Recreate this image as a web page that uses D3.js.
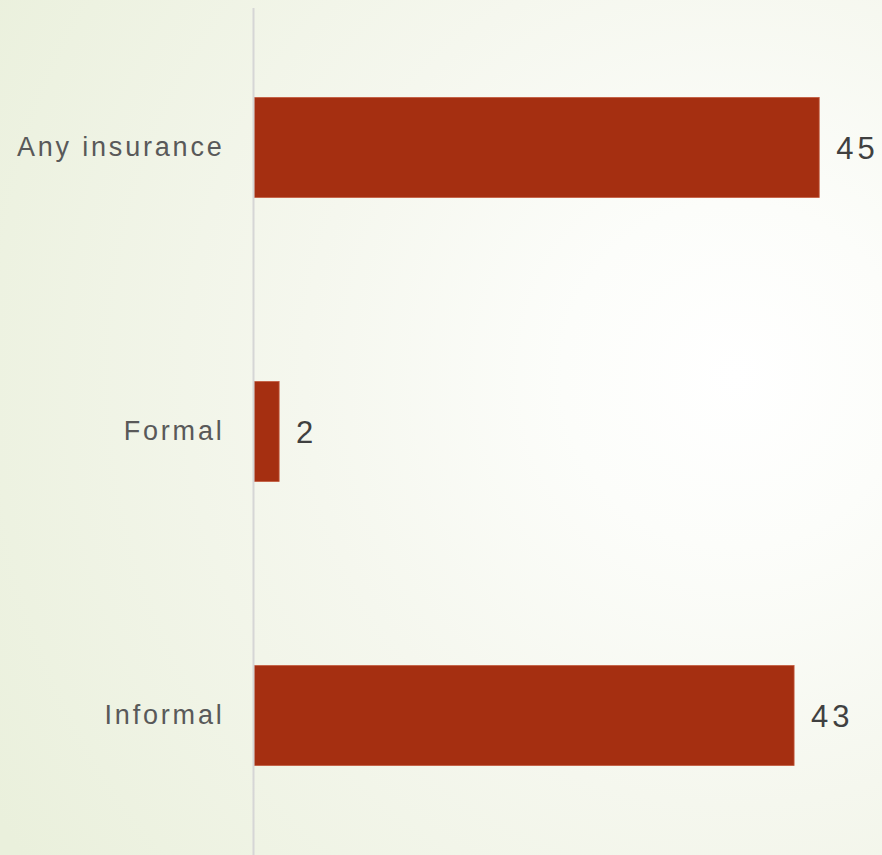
<!DOCTYPE html>
<html>
<head>
<meta charset="utf-8">
<script src="https://cdn.jsdelivr.net/npm/d3@7/dist/d3.min.js"></script>
<style>
  html, body { margin: 0; padding: 0; background: #f4f7ec; }
  svg { display: block; }
</style>
</head>
<body>
<svg id="chart" width="882" height="855"></svg>
<script>
// Share of respondents holding insurance, by type
const categories = ["Any insurance", "Formal", "Informal"];
const values = [45, 2, 43];

const W = 882, H = 855;
const svg = d3.select("#chart");

// Soft radial backdrop, bright toward the right-hand middle
const defs = svg.append("defs");
const grad = defs.append("radialGradient")
  .attr("id", "bg")
  .attr("gradientUnits", "userSpaceOnUse")
  .attr("cx", 735).attr("cy", 375).attr("r", 860);
grad.append("stop").attr("offset", "0").attr("stop-color", "#ffffff");
grad.append("stop").attr("offset", "0.2").attr("stop-color", "#fcfdfa");
grad.append("stop").attr("offset", "0.5").attr("stop-color", "#f5f7ee");
grad.append("stop").attr("offset", "1").attr("stop-color", "#eaf0dc");
svg.append("rect").attr("width", W).attr("height", H).attr("fill", "url(#bg)");

const x = d3.scaleLinear().domain([0, 50]).range([254, 882]);
const y = d3.scaleBand().domain(categories).range([8, 855])
  .paddingInner(0.648).paddingOuter(0.315);

// Bars
svg.append("g").selectAll("rect")
  .data(categories.map((c, i) => ({ c, v: values[i] })))
  .join("rect")
  .attr("x", x(0))
  .attr("y", d => y(d.c))
  .attr("width", d => x(d.v) - x(0))
  .attr("height", y.bandwidth())
  .attr("fill", "#a52f11")
  .attr("stroke", "#c25a3e")
  .attr("stroke-width", 0.8);

// Category axis on the left, drawn with d3.axisLeft
const axis = svg.append("g")
  .attr("transform", `translate(${x(0) - 0.5},0)`)
  .call(d3.axisLeft(y).tickSize(0).tickPadding(29));
axis.select(".domain")
  .attr("d", `M0,8V855`)
  .attr("stroke", "#d6d6d6")
  .attr("stroke-width", 2);
axis.selectAll("text")
  .attr("font-family", "'Liberation Sans', Arial, sans-serif")
  .attr("font-size", 27)
  .attr("dy", "0.33em")
  .attr("letter-spacing", "2.8px")
  .attr("fill", "#595959");

// Value labels at the bar ends
svg.append("g").selectAll("text")
  .data(categories.map((c, i) => ({ c, v: values[i] })))
  .join("text")
  .attr("x", d => x(d.v) + 17)
  .attr("y", d => y(d.c) + y.bandwidth() / 2)
  .attr("dy", "0.36em")
  .attr("font-family", "'Liberation Sans', Arial, sans-serif")
  .attr("font-size", 31)
  .attr("letter-spacing", "4px")
  .attr("fill", "#404040")
  .text(d => d.v);
</script>
</body>
</html>
